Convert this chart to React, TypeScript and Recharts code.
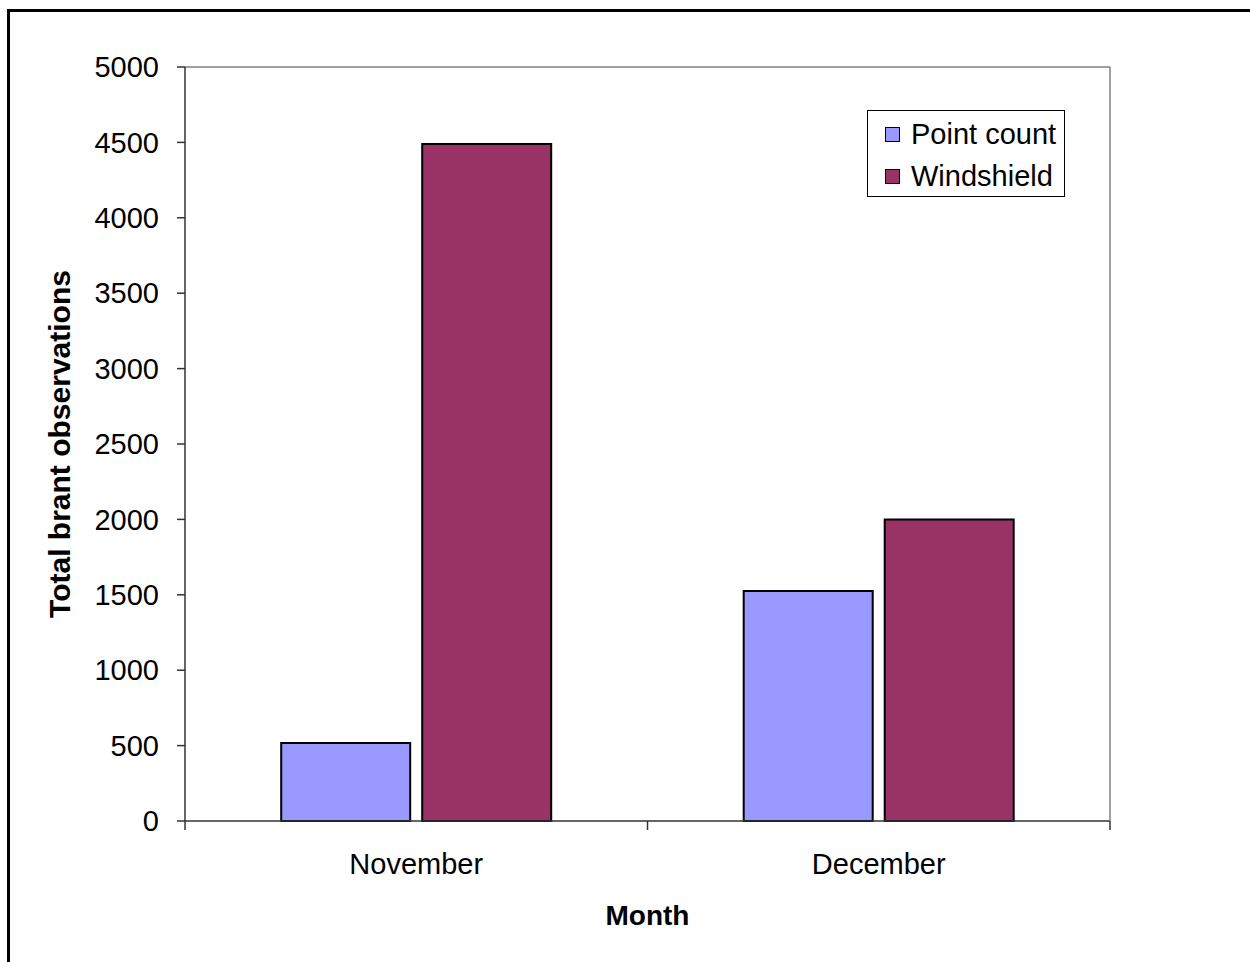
import {
  BarChart,
  Bar,
  XAxis,
  YAxis,
  ReferenceLine,
  Legend,
} from 'recharts';

// Survey months and brant totals per method
const months = ['November', 'December'];
const pointCount = [517, 1525];
const windshield = [4490, 2000];
const yTicks = [0, 500, 1000, 1500, 2000, 2500, 3000, 3500, 4000, 4500, 5000];

const data = months.map((month, i) => ({
  month,
  pointCount: pointCount[i],
  windshield: windshield[i],
}));

const FONT = 'Liberation Sans, Arial, sans-serif';
const CHART_W = 1250;
const CHART_H = 962;
const MARGIN = { top: 67, right: 130, left: 65, bottom: 81 };
const Y_AXIS_W = 120;
const BAND = (CHART_W - MARGIN.left - Y_AXIS_W - MARGIN.right - 10) / months.length;

/** X tick: label centred under the band, tick marks at band edges (Excel style). */
function MonthTick(props: any) {
  const { x, y, payload, index } = props;
  const half = BAND / 2;
  return (
    <g>
      <line x1={x - half} y1={y} x2={x - half} y2={y + 9} stroke="#333" strokeWidth={1.5} />
      {index === months.length - 1 && (
        <line x1={x + half} y1={y} x2={x + half} y2={y + 9} stroke="#333" strokeWidth={1.5} />
      )}
      <text x={x} y={y + 53} textAnchor="middle" fontSize={29} fontFamily={FONT} fill="#000">
        {payload.value}
      </text>
    </g>
  );
}

function YTitle({ viewBox }: any) {
  const cy = viewBox.y + viewBox.height / 2;
  const cx = 70;
  return (
    <text
      x={cx}
      y={cy}
      transform={`rotate(-90 ${cx} ${cy})`}
      textAnchor="middle"
      fontSize={30}
      fontWeight="bold"
      fontFamily={FONT}
      fill="#000"
    >
      Total brant observations
    </text>
  );
}

function XTitle({ viewBox }: any) {
  return (
    <text
      x={viewBox.x + viewBox.width / 2}
      y={925}
      textAnchor="middle"
      fontSize={28}
      fontWeight="bold"
      fontFamily={FONT}
      fill="#000"
    >
      Month
    </text>
  );
}

/** Boxed legend in the top-right of the plot. */
function LegendBox({ payload }: any) {
  return (
    <div
      style={{
        width: 196,
        height: 85,
        border: '1px solid #000',
        background: '#fff',
        fontFamily: FONT,
        fontSize: 29,
        color: '#000',
        position: 'relative',
      }}
    >
      {(payload || []).map((entry: any, i: number) => (
        <div
          key={entry.value}
          style={{
            position: 'absolute',
            left: 17,
            top: 6 + i * 42,
            height: 34,
            display: 'flex',
            alignItems: 'center',
            whiteSpace: 'nowrap',
          }}
        >
          <span
            style={{
              display: 'inline-block',
              width: 13,
              height: 13,
              background: entry.color,
              border: '1.5px solid #000',
              marginRight: 11,
            }}
          />
          <span>{entry.value}</span>
        </div>
      ))}
    </div>
  );
}

export default function App() {
  return (
    <div
      style={{
        position: 'fixed',
        left: 0,
        top: 0,
        width: CHART_W,
        height: CHART_H,
        overflow: 'hidden',
        background: '#fff',
      }}
    >
      {/* Outer frame: only the left and top edges fall inside the picture */}
      <div
        style={{
          position: 'absolute',
          left: 7,
          top: 9,
          width: 1400,
          height: 1100,
          border: '3px solid #000',
        }}
      />
      <div style={{ position: 'absolute', left: 0, top: 0 }}>
        <BarChart
          width={CHART_W}
          height={CHART_H}
          data={data}
          margin={MARGIN}
          barCategoryGap="20.8%"
          barGap={12}
        >
          <XAxis
            dataKey="month"
            height={60}
            axisLine={{ stroke: '#333', strokeWidth: 1.5 }}
            tickLine={false}
            tickSize={0}
            tickMargin={0}
            tick={<MonthTick />}
            interval={0}
            label={<XTitle />}
          />
          <YAxis
            width={Y_AXIS_W}
            domain={[0, 5000]}
            ticks={yTicks}
            interval={0}
            tickSize={8}
            tickMargin={18}
            axisLine={{ stroke: '#333', strokeWidth: 1.5 }}
            tickLine={{ stroke: '#333', strokeWidth: 1.5 }}
            tick={{ fontSize: 29, fontFamily: FONT, fill: '#000' }}
            label={<YTitle />}
          />
          <YAxis
            yAxisId="frame"
            orientation="right"
            width={10}
            domain={[0, 5000]}
            tick={false}
            tickLine={false}
            axisLine={{ stroke: '#808080', strokeWidth: 1.5 }}
          />
          <ReferenceLine y={5000} stroke="#808080" strokeWidth={1.5} />
          {/* vertical + center + middle: Recharts reserves no margin for it */}
          <Legend
            layout="vertical"
            verticalAlign="middle"
            align="center"
            content={<LegendBox />}
            wrapperStyle={{ position: 'absolute', left: 867, top: 110, width: 198 }}
          />
          <Bar
            dataKey="pointCount"
            name="Point count"
            fill="#9999FF"
            stroke="#000"
            strokeWidth={2}
            isAnimationActive={false}
          />
          <Bar
            dataKey="windshield"
            name="Windshield"
            fill="#993366"
            stroke="#000"
            strokeWidth={2}
            isAnimationActive={false}
          />
        </BarChart>
      </div>
    </div>
  );
}
